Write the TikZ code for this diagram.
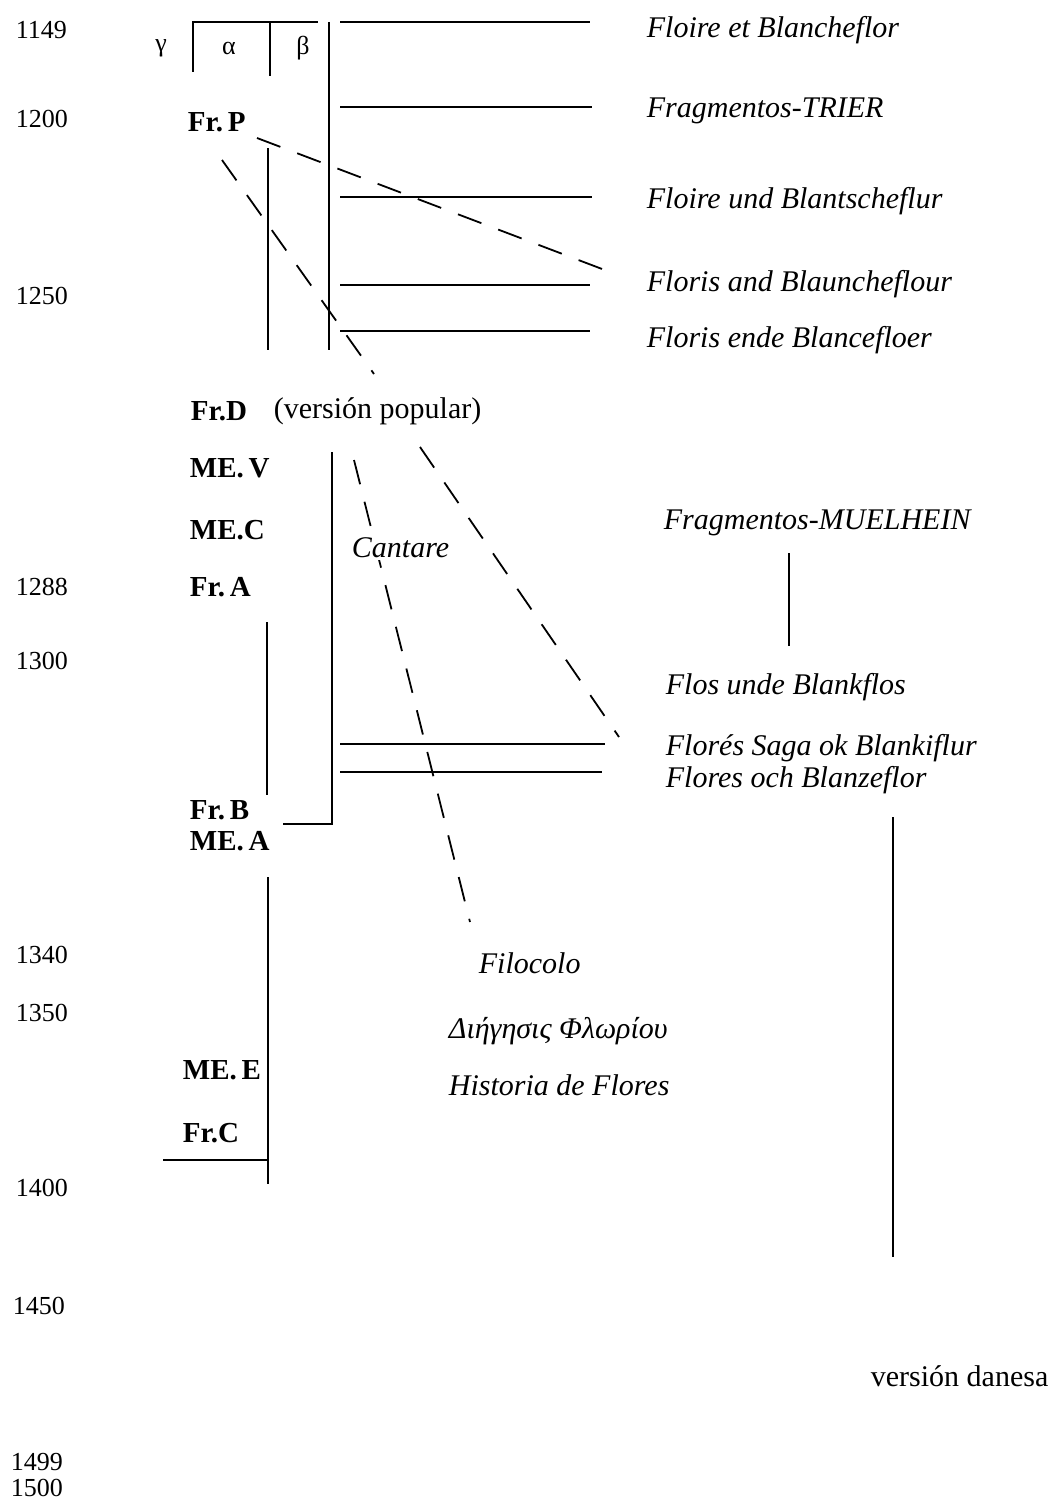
\documentclass[tikz,border=0pt]{standalone}
\usepackage{fontspec}
\setmainfont{Liberation Serif}
\begin{document}
\begin{tikzpicture}[x=0.5pt,y=-0.5pt, line width=0.9pt,
  yr/.style={anchor=west, font=\fontsize{13}{14}\selectfont, inner sep=0pt},
  ms/.style={anchor=west, font=\fontsize{14.5}{15}\selectfont\bfseries, inner sep=0pt},
  ti/.style={anchor=west, font=\fontsize{15}{16}\selectfont\itshape, inner sep=0pt},
  rm/.style={anchor=west, font=\fontsize{15}{16}\selectfont, inner sep=0pt},
  gk/.style={anchor=center, font=\fontsize{13}{14}\selectfont, inner sep=0pt},
  dsh/.style={dash pattern=on 12.5pt off 9pt}]
\useasboundingbox (0,0) rectangle (1051,1504);

% years
\node[yr] (y1149) at (15,30) {1149};
\node[yr] (y1200) at (15,119) {1200};
\node[yr] (y1250) at (15,296) {1250};
\node[yr] (y1288) at (15,587) {1288};
\node[yr] (y1300) at (15,661) {1300};
\node[yr] (y1340) at (15,955) {1340};
\node[yr] (y1350) at (15,1013) {1350};
\node[yr] (y1400) at (15,1188) {1400};
\node[yr] (y1450) at (12,1306) {1450};
\node[yr] (y1499) at (10,1462) {1499};
\node[yr] (y1500) at (10,1488) {1500};

% greek branch letters
\node[gk] (gam) at (161,48) {γ};
\node[gk] (alp) at (229,48) {α};
\node[gk] (bet) at (303,48) {β};

% manuscripts
\node[ms] (frP) at (187,122) {Fr.\,P};
\node[ms] (frD) at (190,411) {Fr.D};
\node[rm] (pop) at (273,411) {(versión popular)};
\node[ms] (meV) at (189,468) {ME.\,V};
\node[ms] (meC) at (189,530) {ME.C};
\node[ms] (frA) at (189,587) {Fr.\,A};
\node[ms] (frB) at (189,810) {Fr.\,B};
\node[ms] (meA) at (189,841) {ME.\,A};
\node[ms] (meE) at (182,1070) {ME.\,E};
\node[ms] (frC) at (182,1133) {Fr.C};

% works (right)
\node[ti] (t1) at (646,30) {Floire et Blancheflor};
\node[ti] (t2) at (646,111) {Fragmentos-TRIER};
\node[ti] (t3) at (646,201) {Floire und Blantscheflur};
\node[ti] (t4) at (646,284) {Floris and Blauncheflour};
\node[ti] (t5) at (646,340) {Floris ende Blancefloer};
\node[ti] (t6) at (663,523) {Fragmentos-MUELHEIN};
\node[ti] (t7) at (665,687) {Flos unde Blankflos};
\node[ti] (t8) at (665,748) {Florés Saga ok Blankiflur};
\node[ti] (t9) at (665,780) {Flores och Blanzeflor};
\node[ti] (fil) at (478,963) {Filocolo};
\node[ti] (dig) at (448,1031) {Διήγησις Φλωρίου};
\node[ti] (his) at (448,1085) {Historia de Flores};
\node[rm] (dan) at (870,1376) {versión danesa};

% coordinates
\coordinate (g0) at (193,22);
\coordinate (g1) at (193,72);
\coordinate (a0) at (270,22);
\coordinate (a1) at (270,76);
\coordinate (b0) at (318,22);
\coordinate (m0) at (329,22);
\coordinate (m1) at (329,350);
\coordinate (s0) at (268,148);
\coordinate (s1) at (268,350);
\foreach \yy/\xe [count=\i] in {22/590,107/592,197/592,285/590,331/590}{
  \coordinate (hl\i) at (340,\yy);
  \coordinate (hr\i) at (\xe,\yy);
}
\coordinate (d1a) at (257,138);
\coordinate (d1b) at (610,272);
\coordinate (d2a) at (222,160);
\coordinate (d2b) at (374,374);
\coordinate (d3a) at (354,460);
\coordinate (d3b) at (470,922);
\coordinate (d4a) at (420,447);
\coordinate (d4b) at (619,737);
\coordinate (v2a) at (332,452);
\coordinate (v2b) at (332,824);
\coordinate (v2c) at (283,824);
\coordinate (v3a) at (267,622);
\coordinate (v3b) at (267,795);
\coordinate (h6a) at (340,744);
\coordinate (h6b) at (605,744);
\coordinate (h7a) at (340,772);
\coordinate (h7b) at (602,772);
\coordinate (mu0) at (789,553);
\coordinate (mu1) at (789,646);
\coordinate (da0) at (893,817);
\coordinate (da1) at (893,1257);
\coordinate (e0) at (268,877);
\coordinate (e1) at (268,1184);
\coordinate (e2) at (268,1160);
\coordinate (e3) at (163,1160);

% top frame
\draw (g1) -- (g0) -- (b0);
\draw (a0) -- (a1);
\draw (m0) -- (m1);
\draw (s0) -- (s1);
\foreach \i in {1,...,5}{ \draw (hl\i) -- (hr\i); }

% middle
\draw (v2a) -- (v2b) -- (v2c);
\draw (v3a) -- (v3b);
\draw (h6a) -- (h6b);
\draw (h7a) -- (h7b);
\draw (mu0) -- (mu1);
\draw (da0) -- (da1);
\draw (e0) -- (e1);
\draw (e2) -- (e3);

% dashed filiations
\draw[dsh] (d1a) -- (d1b);
\draw[dsh] (d2a) -- (d2b);
\draw[dsh] (d3a) -- (d3b);
\draw[dsh] (d4a) -- (d4b);

\node[ti, fill=white, inner sep=1pt] (can) at (349,548) {Cantare};
\end{tikzpicture}
\end{document}
